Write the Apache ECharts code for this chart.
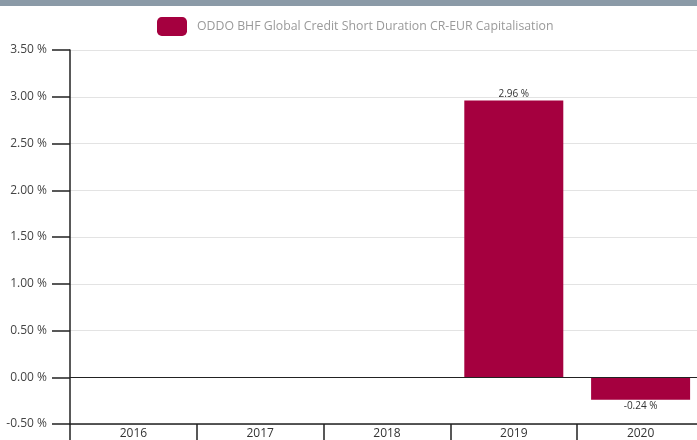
<!DOCTYPE html>
<html>
<head>
<meta charset="utf-8">
<script src="https://cdn.jsdelivr.net/npm/echarts@6/dist/echarts.min.js"></script>
<style>
  html, body { margin: 0; padding: 0; background: #fff; }
  #myChart { width: 697px; height: 440px; }
</style>
</head>
<body>
<div id="myChart"></div>
<script>
var seriesName = "ODDO BHF Global Credit Short Duration CR-EUR Capitalisation";
var years = ["2016", "2017", "2018", "2019", "2020"];
var perf = [null, null, null, 2.96, -0.24];

var myChart = echarts.init(document.getElementById("myChart"));

// positive values: label above, negative values: label below
var barData = perf.map(function (v) {
  if (v === null) return "-";
  return { value: v, label: { position: v < 0 ? "bottom" : "top" } };
});

myChart.setOption({
  animation: false,
  textStyle: { fontFamily: "Open Sans" },
  graphic: [
    {
      type: "rect",
      left: 0,
      top: 0,
      shape: { width: 697, height: 6 },
      style: { fill: "#8b9aa7" }
    }
  ],
  legend: {
    data: [seriesName],
    top: 12,
    left: 152,
    itemWidth: 30,
    itemHeight: 19,
    selectedMode: false,
    textStyle: { color: "#9a9a9a", fontSize: 12.3, padding: [0, 0, 0, 5] }
  },
  grid: {
    left: 70,
    top: 50,
    width: 634,
    height: 374,
    outerBoundsMode: "none"
  },
  xAxis: {
    type: "category",
    data: years,
    axisLine: { onZero: false, lineStyle: { color: "#222", width: 1.5 } },
    axisTick: { show: true, length: 18, inside: false, lineStyle: { color: "#222", width: 1.5 } },
    axisLabel: { color: "#333", fontSize: 12, margin: 4 },
    splitLine: { show: false }
  },
  yAxis: {
    type: "value",
    min: -0.5,
    max: 3.5,
    interval: 0.5,
    axisLine: { show: true, lineStyle: { color: "#222", width: 1.5 } },
    axisTick: { show: true, length: 18, lineStyle: { color: "#222", width: 1.5 } },
    axisLabel: {
      color: "#444",
      fontSize: 12,
      margin: 23,
      formatter: function (v) { return v.toFixed(2) + " %"; }
    },
    splitLine: { show: true, lineStyle: { color: "#e3e3e3", width: 1 } }
  },
  series: [
    {
      name: seriesName,
      type: "bar",
      data: barData,
      barWidth: 99,
      itemStyle: { color: "#a5003f" },
      label: {
        show: true,
        distance: 1,
        color: "#333",
        fontSize: 10,
        formatter: function (p) { return p.value.toFixed(2) + " %"; }
      },
      markLine: {
        silent: true,
        symbol: "none",
        label: { show: false },
        lineStyle: { color: "#222", width: 1.2, type: "solid" },
        data: [{ yAxis: 0 }]
      }
    }
  ]
});
</script>
</body>
</html>
